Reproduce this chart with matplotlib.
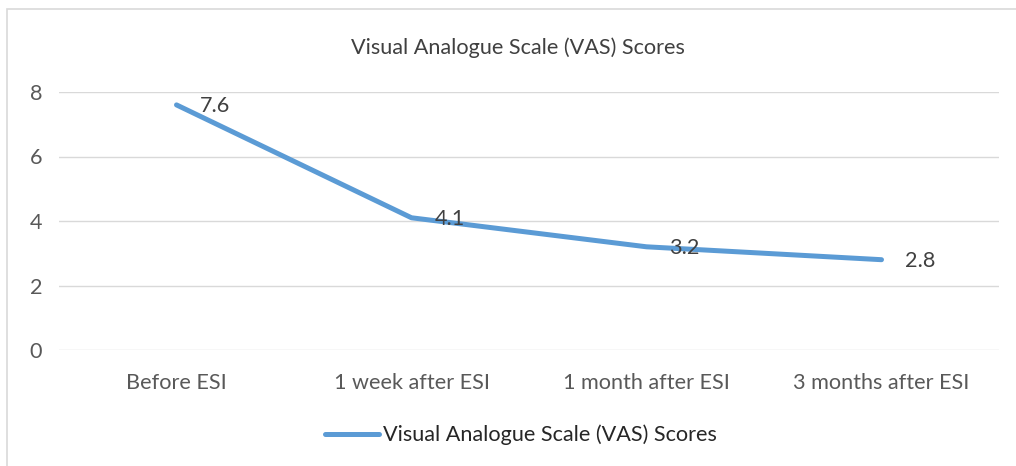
import matplotlib.pyplot as plt
from matplotlib.patches import Rectangle
import numpy as np

# Data
categories = ["Before ESI", "1 week after ESI", "1 month after ESI", "3 months after ESI"]
scores = [7.6, 4.1, 3.2, 2.8]
series_name = "Visual Analogue Scale (VAS) Scores"

plt.rcParams['font.family'] = ['Lato', 'DejaVu Sans']
gray_txt = '#595959'
line_col = '#5B9BD5'
fs = 15.6

fig = plt.figure(figsize=(10.16, 4.66), dpi=100)
ax = fig.add_axes([59/1016, 1 - 350/466, 940/1016, 258/466])

# chart frame (cut off at right/bottom like the reference)
fig.patches.append(Rectangle((7/1016, -0.1), 1.2, 1 - 9/466 + 0.1, transform=fig.transFigure,
                             fill=False, edgecolor='#D9D9D9', lw=1.2))

x = np.arange(len(categories))
ax.plot(x, scores, color=line_col, lw=3.6, solid_capstyle='round', label=series_name)
for xi, v in zip(x, scores):
    ax.annotate(f"{v}", (xi, v), xytext=(23, -1), textcoords='offset pixels',
                ha='left', va='center', fontsize=fs, color='#404040')

ax.set_xlim(-0.5, len(categories) - 0.5)
ax.set_ylim(0, 8)
ax.set_yticks([0, 2, 4, 6, 8])
ax.set_xticks(x)
ax.set_xticklabels(categories)
ax.grid(axis='y', color='#D9D9D9', lw=1)
ax.set_axisbelow(True)
for s in ax.spines.values():
    s.set_visible(False)
ax.tick_params(axis='both', length=0, labelsize=fs, labelcolor=gray_txt)
ax.tick_params(axis='y', pad=12)
ax.tick_params(axis='x', pad=16.5)

fig.text(518/1016, 1 - 48/466, series_name, ha='center', va='center', fontsize=fs, color='#404040')
fig.legend(loc='center', bbox_to_anchor=(521/1016, 1 - 435/466), frameon=False, fontsize=fs,
           handlelength=2.5, handletextpad=0.2, labelcolor='#262626')

fig.savefig('out.png', dpi=100)
